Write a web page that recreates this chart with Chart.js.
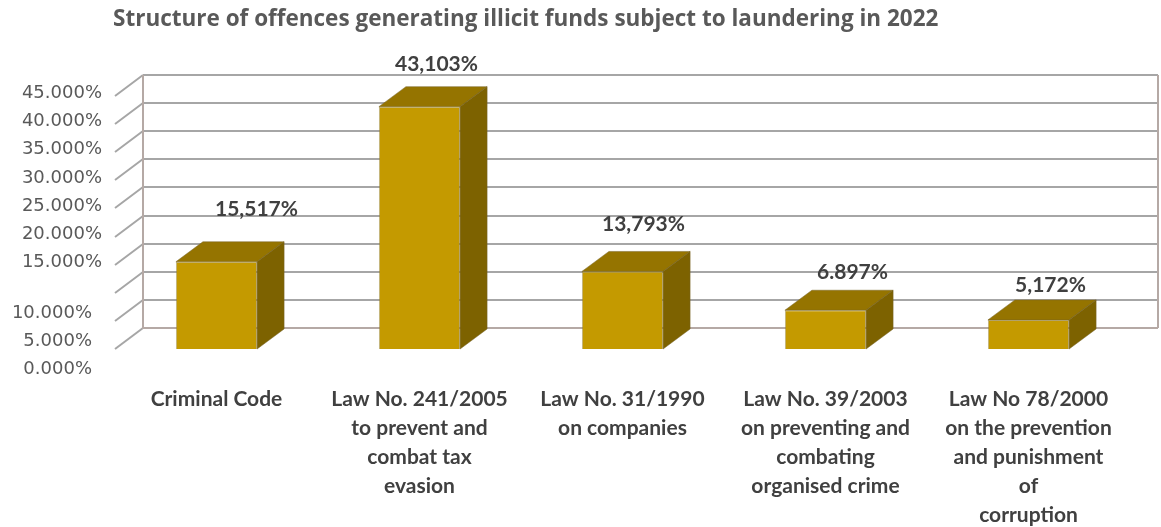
<!DOCTYPE html>
<html>
<head>
<meta charset="utf-8">
<script src="https://cdn.jsdelivr.net/npm/chart.js@4.4.1/dist/chart.umd.min.js"></script>
<style>
  html, body { margin: 0; padding: 0; background: #fff; }
</style>
</head>
<body>
<canvas id="myChart" width="1161" height="527"></canvas>
<script>
const chartTitle = "Structure of offences generating illicit funds subject to laundering in 2022";
const categories = [
  "Criminal Code",
  ["Law No. 241/2005", "to prevent and", "combat tax", "evasion"],
  ["Law No. 31/1990", "on companies"],
  ["Law No. 39/2003", "on preventing and", "combating", "organised crime"],
  ["Law No 78/2000", "on the prevention", "and punishment", "of", "corruption"],
];
const shares = [15.517, 43.103, 13.793, 6.897, 5.172];
const decimalMarks = [",", ",", ",", ".", ","];
const yTicks = [0, 5, 10, 15, 20, 25, 30, 35, 40, 45];

// label offsets from the top-front corner of each bar
const labelNudge = [[40, -53], [17, -42], [21, -47], [27, -38], [22, -35]];

const WALL_DX = 28;
const WALL_DY = -21;
const BAR_DX = 27;
const BAR_DY = -20;

const frontColor = "#c49a00";
const topColor = "#957400";
const sideColor = "#7d6200";

const formatShare = (v, i) => v.toFixed(3).replace(".", decimalMarks[i]) + "%";

const box3d = {
  id: "box3d",
  beforeDatasetsDraw(chart) {
    const { ctx, chartArea: a } = chart;
    const y = chart.scales.y;
    ctx.save();
    ctx.lineWidth = 2;
    ctx.strokeStyle = "#a6a6a6";
    yTicks.forEach((v) => {
      const py = Math.round(y.getPixelForValue(v));
      ctx.beginPath();
      ctx.moveTo(a.left, py);
      ctx.lineTo(a.left + WALL_DX, py + WALL_DY);
      if (v > 0) {
        ctx.moveTo(a.left + WALL_DX, py + WALL_DY);
        ctx.lineTo(a.right + WALL_DX, py + WALL_DY);
      }
      ctx.stroke();
    });

    // wall edges and back of the floor
    const top = Math.round(y.getPixelForValue(45)) + WALL_DY;
    const floor = Math.round(y.getPixelForValue(0)) + WALL_DY;
    ctx.strokeStyle = "#b5a9a5";
    ctx.beginPath();
    ctx.moveTo(a.left + WALL_DX, top);
    ctx.lineTo(a.left + WALL_DX, floor);
    ctx.lineTo(a.right + WALL_DX, floor);
    ctx.moveTo(a.right + WALL_DX, top);
    ctx.lineTo(a.right + WALL_DX, floor);
    ctx.stroke();

    // value axis labels
    ctx.fillStyle = "#595959";
    ctx.font = "18px 'DejaVu Sans'";
    ctx.textAlign = "right";
    ctx.textBaseline = "middle";
    yTicks.forEach((v) => {
      const py = y.getPixelForValue(v);
      const shift = v < 15 ? [-10, 23] : [0, 0];
      ctx.fillText(v.toFixed(3) + "%", a.left - 13 + shift[0], py - 2.5 + shift[1]);
    });
    ctx.restore();
  },
  afterDatasetsDraw(chart) {
    const { ctx } = chart;
    const bars = chart.getDatasetMeta(0).data;
    ctx.save();
    bars.forEach((bar, i) => {
      const { x, y, base, width } = bar.getProps(["x", "y", "base", "width"], true);
      const l = x - width / 2;
      const r = x + width / 2;
      ctx.lineWidth = 1;
      ctx.strokeStyle = "rgba(120,100,40,0.5)";

      ctx.fillStyle = topColor;
      ctx.beginPath();
      ctx.moveTo(l, y);
      ctx.lineTo(l + BAR_DX, y + BAR_DY);
      ctx.lineTo(r + BAR_DX, y + BAR_DY);
      ctx.lineTo(r, y);
      ctx.closePath();
      ctx.fill();
      ctx.stroke();

      ctx.fillStyle = sideColor;
      ctx.beginPath();
      ctx.moveTo(r, y);
      ctx.lineTo(r + BAR_DX, y + BAR_DY);
      ctx.lineTo(r + BAR_DX, base + BAR_DY);
      ctx.lineTo(r, base);
      ctx.closePath();
      ctx.fill();
      ctx.stroke();

      ctx.fillStyle = "#404040";
      ctx.font = "bold 21px Lato";
      ctx.textAlign = "center";
      ctx.textBaseline = "middle";
      ctx.fillText(formatShare(shares[i], i), x + labelNudge[i][0], y + labelNudge[i][1]);
    });
    ctx.restore();
  },
};

const ctx = document.getElementById("myChart");
new Chart(ctx, {
  type: "bar",
  data: {
    labels: categories,
    datasets: [
      {
        label: "Share",
        data: shares,
        backgroundColor: frontColor,
        borderColor: "rgba(150,125,40,0.6)",
        borderWidth: 1,
        categoryPercentage: 1,
        barPercentage: 0.4,
      },
    ],
  },
  options: {
    responsive: false,
    animation: false,
    devicePixelRatio: 1,
    layout: { padding: { left: 113, right: 31, top: 0, bottom: 0 } },
    plugins: {
      legend: { display: false },
      tooltip: { enabled: false },
      title: {
        display: true,
        text: chartTitle,
        align: "start",
        color: "#595959",
        font: { family: "'Open Sans'", weight: "bold", size: 22.5, lineHeight: 1.2 },
        padding: { top: 6.5, bottom: 62.5 },
      },
    },
    scales: {
      x: {
        grid: { display: false, drawTicks: false },
        border: { display: false },
        ticks: {
          color: "#404040",
          font: { family: "Lato", weight: "bold", size: 21, lineHeight: 1.38 },
          padding: 36,
          maxRotation: 0,
          autoSkip: false,
        },
        afterFit: (scale) => {
          scale.height = 178;
        },
      },
      y: {
        min: 0,
        max: 45,
        grid: { display: false, drawTicks: false },
        border: { display: false },
        ticks: { display: false, stepSize: 5 },
        afterFit: (scale) => {
          scale.width = 2;
        },
      },
    },
  },
  plugins: [box3d],
});
</script>
</body>
</html>
